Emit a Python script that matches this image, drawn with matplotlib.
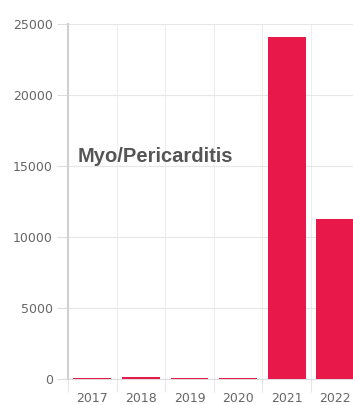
import numpy as np
import matplotlib.pyplot as plt

years = ['2017', '2018', '2019', '2020', '2021', '2022']
reports = [60, 150, 70, 80, 24100, 11300]
yticks = [0, 5000, 10000, 15000, 20000, 25000]

W, H = 353, 405
left, zero_y, top_y = 68, 379, 24
fig = plt.figure(figsize=(W / 100, H / 100), dpi=100)
# plot area: y axis at x=68, zero line at y=379, top at y=24, right side runs off the figure
ax = fig.add_axes([left / W, (H - zero_y) / H, (W - left) / W, (zero_y - top_y) / H])

x = np.arange(len(years))
ax.bar(x, reports, width=0.78, color='#e8194a', zorder=3)

ax.set_yticks(yticks)
ax.set_yticklabels([str(v) for v in yticks])
ax.set_xticks(x)
ax.set_xticklabels(years)
ax.set_xticks(np.arange(-0.5, 6.5, 1), minor=True)

# limits after the ticks, otherwise set_xticks widens the view
step = 48.6
ax.set_xlim(-0.5, -0.5 + (W - left) / step)
ax.set_ylim(0, 25000)

ax.tick_params(axis='y', length=8, width=0.8, color='#dddddd', labelsize=9,
               labelcolor='#666666', pad=3)
ax.tick_params(axis='x', which='major', length=0, labelsize=9, labelcolor='#666666', pad=9)
ax.tick_params(axis='x', which='minor', length=9, width=0.8, color='#e6e6e6')

ax.grid(True, axis='y', color='#e6e6e6', linewidth=0.8, zorder=0)
ax.grid(True, axis='x', which='minor', color='#eeeeee', linewidth=0.8, zorder=0)
ax.grid(False, axis='x', which='major')

for s in ['top', 'right']:
    ax.spines[s].set_visible(False)
ax.spines['bottom'].set_color('#dddddd')
ax.spines['bottom'].set_linewidth(0.8)
ax.spines['left'].set_color('#d0d0d0')
ax.spines['left'].set_linewidth(1.5)

# label sits in pixel coordinates (origin bottom-left)
ax.text(78, H - 157, 'Myo/Pericarditis', transform=None, fontsize=14.5, fontweight='bold',
        family='Liberation Sans', color='#555555', va='center', ha='left')

fig.savefig('out.png', dpi=100)
